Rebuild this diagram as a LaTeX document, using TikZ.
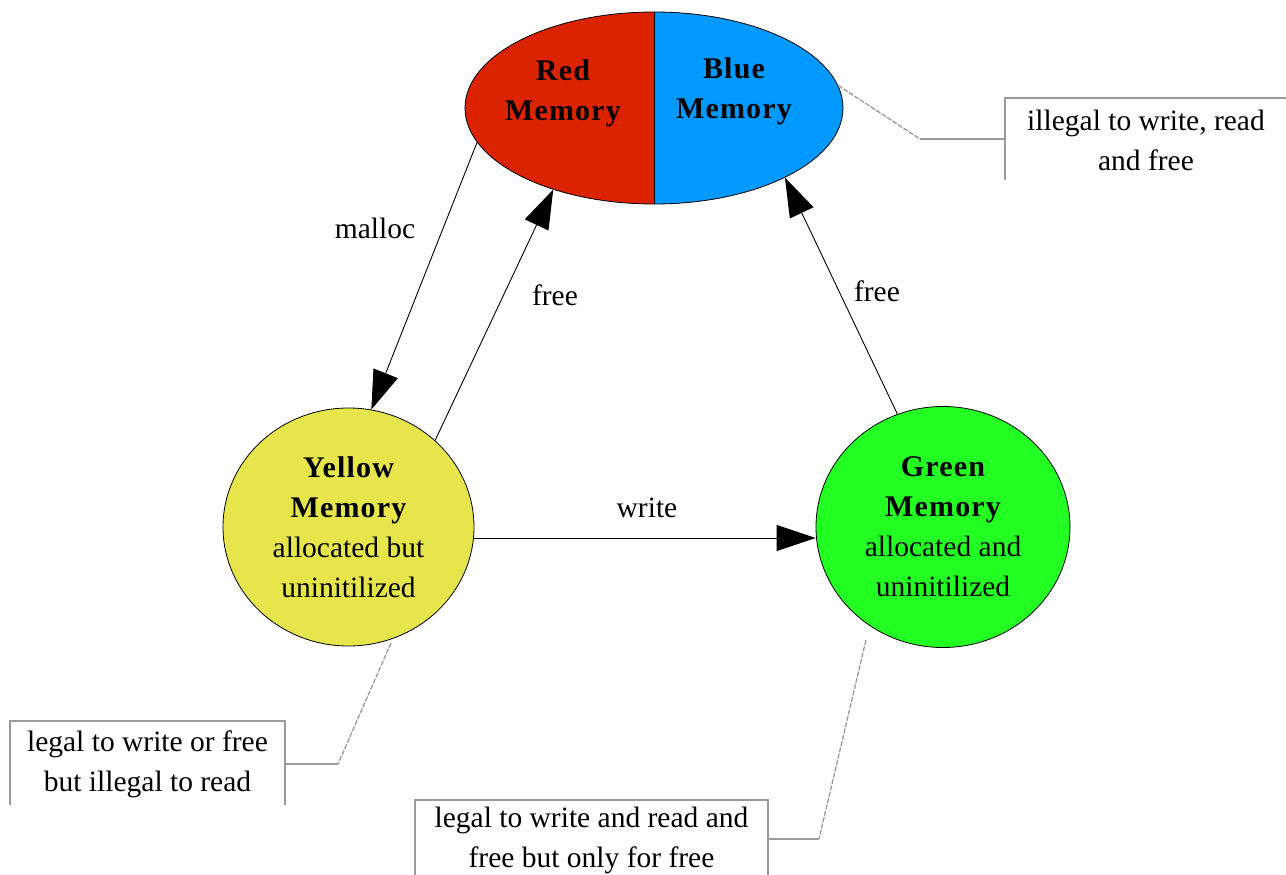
\documentclass[tikz,border=0pt]{standalone}
\usepackage{fontspec}
\setmainfont{Liberation Serif}
\newfontfamily\hdfont[LetterSpace=4]{Liberation Serif}
\usetikzlibrary{shapes.geometric,arrows.meta}
\definecolor{memred}{HTML}{DC2300}
\definecolor{memblue}{HTML}{0099FF}
\definecolor{memyellow}{HTML}{E6E64C}
\definecolor{memgreen}{HTML}{23FF23}
\definecolor{callgray}{HTML}{9A9A9A}
\tikzset{
  txt/.style={font=\fontsize{29.5}{40}\selectfont, align=center, inner sep=0pt},
  memnode/.style={ellipse, draw=black, line width=0.8pt, inner sep=0pt, txt},
  conn/.style={draw=black, line width=0.9pt, -{Triangle[length=39pt,width=26pt]}},
  callline/.style={draw=callgray, line width=1.3pt},
  calldiag/.style={draw=callgray, line width=1.3pt, dash pattern=on 5pt off 1.5pt},
}
\newcommand{\hd}[1]{{\hdfont\bfseries\fontsize{30}{40}\selectfont #1}}
\begin{document}
\begin{tikzpicture}[x=1pt,y=-1pt]
\useasboundingbox[fill=white] (0,0) rectangle (1286,875);

% top ellipse split red / blue
\node[memnode, minimum width=378pt, minimum height=192pt,
  path picture={
    \fill[memred] (path picture bounding box.north west) rectangle (path picture bounding box.south);
    \fill[memblue] (path picture bounding box.north) rectangle (path picture bounding box.south east);
    \draw[line width=0.8pt] (path picture bounding box.north) -- (path picture bounding box.south);
  }] (mem) at (654,108) {};
\node[txt] (redtxt) at (563,93) {\hd{Red}\\\hd{Memory}};
\node[txt] (bluetxt) at (734,91) {\hd{Blue}\\\hd{Memory}};

% yellow and green
\node[memnode, fill=memyellow, minimum width=251pt, minimum height=238pt] (yel) at (348.5,527)
  {\hd{Yellow}\\\hd{Memory}\\allocated but\\uninitilized};
\node[memnode, fill=memgreen, minimum width=254pt, minimum height=241pt] (grn) at (943,527)
  {\hd{Green}\\\hd{Memory}\\allocated and\\uninitilized};

% connectors
\draw[conn] (mem.191.9) -- (yel.79.8);
\draw[conn] (yel.45.5) -- (mem.219.1);
\draw[conn] (grn.112.5) -- (mem.-28.7);
\draw[conn] ([yshift=-11pt]yel.east) -- ([yshift=-11pt]grn.west);

% edge labels
\node[txt] (lmalloc) at (375,228) {malloc};
\node[txt] (lfree1) at (555,295) {free};
\node[txt] (lfree2) at (877,291) {free};
\node[txt] (lwrite) at (647,508) {write};

% callout: blue
\node[txt] (cblue) at (1146,140) {illegal to write, read\\and free};
\coordinate (cb1) at (920,139);
\coordinate (cb2) at (1005,139);
\draw[callline] (1005,180) -- (1005,98) -- (1286,98);
\draw[calldiag] (mem.7) -- (cb1);
\draw[callline] (cb1) -- (cb2);

% callout: yellow
\node[txt] (cyel) at (147.5,764) {legal to write or free\\but illegal to read};
\coordinate (cy1) at (338,764);
\coordinate (cy2) at (285,764);
\coordinate (cy3) at (391,643);
\draw[callline] (10,805) -- (10,721) -- (285,721) -- (285,805);
\draw[calldiag] (cy3) -- (cy1);
\draw[callline] (cy1) -- (cy2);

% callout: green
\node[txt] (cgrn) at (591.5,840) {legal to write and read and\\free but only for free};
\coordinate (cg1) at (819,839);
\coordinate (cg2) at (768,839);
\coordinate (cg3) at (866,640);
\draw[callline] (415,875) -- (415,800) -- (768,800) -- (768,875);
\draw[calldiag] (cg3) -- (cg1);
\draw[callline] (cg1) -- (cg2);
\end{tikzpicture}
\end{document}
